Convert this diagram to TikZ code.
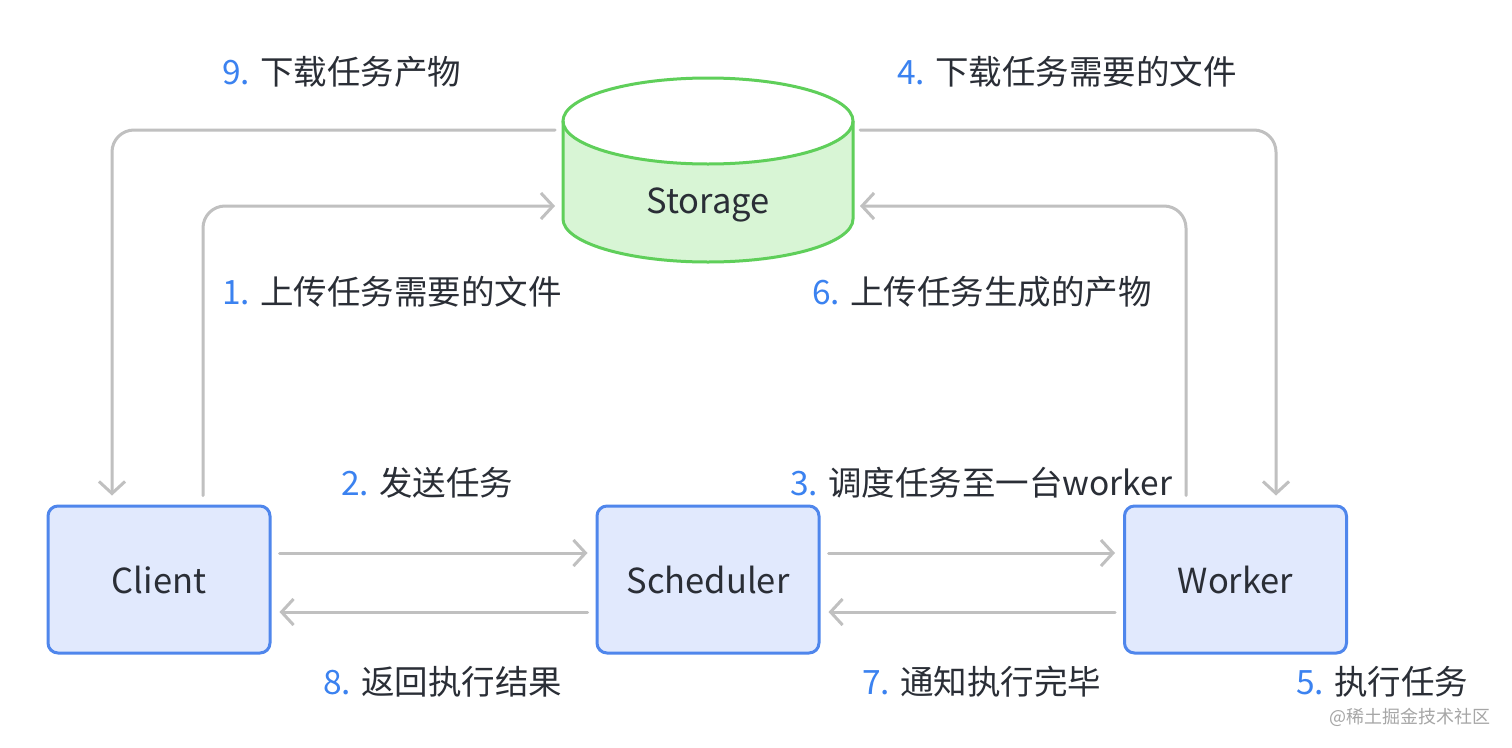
\documentclass[tikz,border=0pt]{standalone}
\usepackage{fontspec}
\setmainfont{Noto Sans CJK SC}
\usetikzlibrary{arrows.meta}
\definecolor{conn}{HTML}{C0C0C0}
\definecolor{boxline}{HTML}{4F86EC}
\definecolor{boxfill}{HTML}{E1E9FD}
\definecolor{dbline}{HTML}{5FCF5A}
\definecolor{dbfill}{HTML}{D8F5D5}
\definecolor{numblue}{HTML}{3B82F0}
\definecolor{txt}{HTML}{2A2E36}
\begin{document}
\begin{tikzpicture}[x=1pt,y=-1pt,
  every node/.style={font=\fontsize{33.5}{40}\selectfont, text=txt},
  procbox/.style={draw=boxline, fill=boxfill, line width=3pt, rounded corners=10pt,
    minimum width=222pt, minimum height=147pt, inner sep=0pt, font=\fontsize{34.5}{40}\selectfont},
  conn/.style={draw=conn, line width=3pt, line cap=round, rounded corners=22pt,
    -{Straight Barb[length=12pt, width=26pt, line width=3pt]}},
  lbl/.style={anchor=base west, inner sep=0pt}]
\useasboundingbox (0,0) rectangle (1512,747);
\fill[white] (0,0) rectangle (1512,747);
% storage cylinder
\path[fill=dbfill] (563,121) -- (563,219) arc[start angle=180, end angle=0, x radius=145, y radius=43] -- (853,121) arc[start angle=0, end angle=180, x radius=145, y radius=43] -- cycle;
\draw[dbline, line width=3pt] (563,121) -- (563,219) arc[start angle=180, end angle=0, x radius=145, y radius=43] -- (853,121);
\draw[dbline, line width=3pt] (708,121) ellipse[x radius=145, y radius=43];
\node[inner sep=0pt, minimum width=290pt, minimum height=184pt] (storage) at (708,170) {};
\node[font=\fontsize{34.5}{40}\selectfont] at (708,205) {Storage};
% process boxes
\node[procbox] (client) at (159,579.5) {Client};
\node[procbox] (sched) at (708,579.5) {Scheduler};
\node[procbox] (worker) at (1235.5,579.5) {Worker};
% coordinates near storage
\coordinate (sL1) at (555,130);
\coordinate (sL2) at (555,206);
\coordinate (sR1) at (860,130);
\coordinate (sR2) at (860,206);
% connectors
\draw[conn] ([yshift=9pt]client.north -| 203,0) |- (sL2);
\draw[conn] (sL1) -| ([yshift=9pt]client.north -| 112,0);
\draw[conn] (sR1) -| ([yshift=9pt]worker.north -| 1276,0);
\draw[conn] ([yshift=9pt]worker.north -| 1186,0) |- (sR2);
\draw[conn] ([xshift=8pt]client.east |- 0,553) -- ([xshift=-8pt]sched.west |- 0,553);
\draw[conn] ([xshift=-8pt]sched.west |- 0,612) -- ([xshift=8pt]client.east |- 0,612);
\draw[conn] ([xshift=8pt]sched.east |- 0,553) -- ([xshift=-8pt]worker.west |- 0,553);
\draw[conn] ([xshift=-8pt]worker.west |- 0,612) -- ([xshift=8pt]sched.east |- 0,612);
% labels
\node[lbl] (l9) at (222,84) {\textcolor{numblue}{9.} 下载任务产物};
\node[lbl] (l4) at (897,84) {\textcolor{numblue}{4.} 下载任务需要的文件};
\node[lbl] (l1) at (222,304) {\textcolor{numblue}{1.} 上传任务需要的文件};
\node[lbl] (l6) at (812,304) {\textcolor{numblue}{6.} 上传任务生成的产物};
\node[lbl] (l2) at (341,495) {\textcolor{numblue}{2.} 发送任务};
\node[lbl] (l3) at (790,495) {\textcolor{numblue}{3.} 调度任务至一台worker};
\node[lbl] (l8) at (323,694) {\textcolor{numblue}{8.} 返回执行结果};
\node[lbl] (l7) at (862,694) {\textcolor{numblue}{7.} 通知执行完毕};
\node[lbl] (l5) at (1296,694) {\textcolor{numblue}{5.} 执行任务};
\node[anchor=base east, inner sep=0pt, font=\fontsize{18}{20}\selectfont, text=black!35] (wm) at (1491,723) {@稀土掘金技术社区};
\end{tikzpicture}
\end{document}
